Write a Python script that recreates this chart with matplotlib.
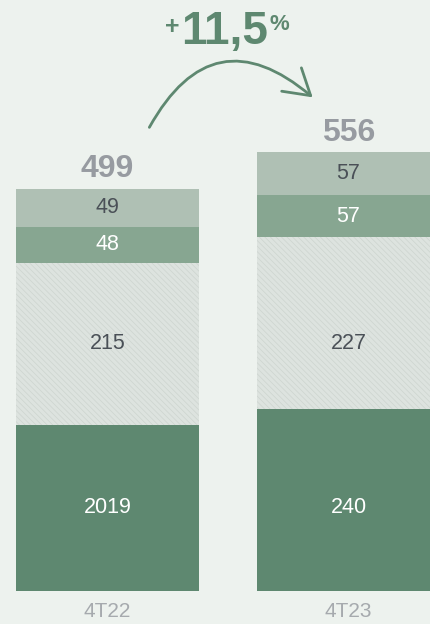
import numpy as np
import matplotlib
matplotlib.use('Agg')
import matplotlib.pyplot as plt
from matplotlib.patches import FancyArrowPatch

# data (heights, labels as printed)
categories = ['4T22', '4T23']
seg_bottom = [206, 226]
seg_hatch = [201, 213]
seg_mid = [45, 52]
seg_top = [47, 53]
lab_bottom = ['2019', '240']
lab_hatch = ['215', '227']
lab_mid = ['48', '57']
lab_top = ['49', '57']
totals = ['499', '556']
growth = '11,5'

bg = '#edf2ee'
c_bottom = '#5e8870'
c_hatch = '#dde3df'
c_mid = '#87a691'
c_top = '#afc0b4'
c_total = '#979ba1'
c_cat = '#a6aaae'
c_dark = '#4a5057'

plt.rcParams['font.family'] = ['Liberation Sans', 'DejaVu Sans']
plt.rcParams['hatch.linewidth'] = 0.5

fig = plt.figure(figsize=(4.31, 6.24), dpi=100, facecolor=bg)
ax = fig.add_axes([0, 0, 1, 1])
ax.set_facecolor(bg)

x = np.arange(len(categories))
w = 0.759
b0 = np.array(seg_bottom)
b1 = b0 + np.array(seg_hatch)
b2 = b1 + np.array(seg_mid)
top = b2 + np.array(seg_top)

ax.bar(x, seg_bottom, w, color=c_bottom, linewidth=0)
ax.bar(x, seg_hatch, w, bottom=b0, facecolor=c_hatch, edgecolor='#cdd4cf',
       hatch='\\\\\\\\\\\\', linewidth=0)
ax.bar(x, seg_mid, w, bottom=b1, color=c_mid, linewidth=0)
ax.bar(x, seg_top, w, bottom=b2, color=c_top, linewidth=0)

# the two lower rows of labels sit on one line across both bars
y_row_bottom = b0[0] / 2
y_row_hatch = b0[0] + seg_hatch[0] / 2

for i in x:
    ax.text(i, y_row_bottom, lab_bottom[i], ha='center', va='center',
            color='white', fontsize=15.5)
    ax.text(i, y_row_hatch, lab_hatch[i], ha='center', va='center',
            color=c_dark, fontsize=15.5)
    ax.text(i, b1[i] + seg_mid[i] / 2, lab_mid[i], ha='center', va='center',
            color='white', fontsize=15.5)
    ax.text(i, b2[i] + seg_top[i] / 2, lab_top[i], ha='center', va='center',
            color=c_dark, fontsize=15.5)
    ax.text(i, top[i] + 6, totals[i], ha='center', va='bottom',
            color=c_total, fontsize=23, fontweight='bold')
    ax.text(i, -26, categories[i], ha='center', va='center',
            color=c_cat, fontsize=15)

# growth arrow
arr = FancyArrowPatch((0.168, 572), (0.86, 610),
                      connectionstyle='arc3,rad=-0.62',
                      arrowstyle='->,head_length=0.9,head_width=0.55',
                      mutation_scale=20, color=c_bottom, lw=2)
ax.add_patch(arr)
ax.text(0.4876, 679, growth, ha='center', va='baseline', color=c_bottom,
        fontsize=33, fontweight='bold')
ax.text(0.268, 700, '+', ha='center', va='center', color=c_bottom,
        fontsize=18, fontweight='bold')
ax.text(0.712, 703, '%', ha='center', va='center', color=c_bottom,
        fontsize=16, fontweight='bold')

ax.set_xlim(-0.446, 1.342)
ax.set_ylim(-41, 733)
ax.axis('off')

fig.savefig('out.png', dpi=100, facecolor=bg)
